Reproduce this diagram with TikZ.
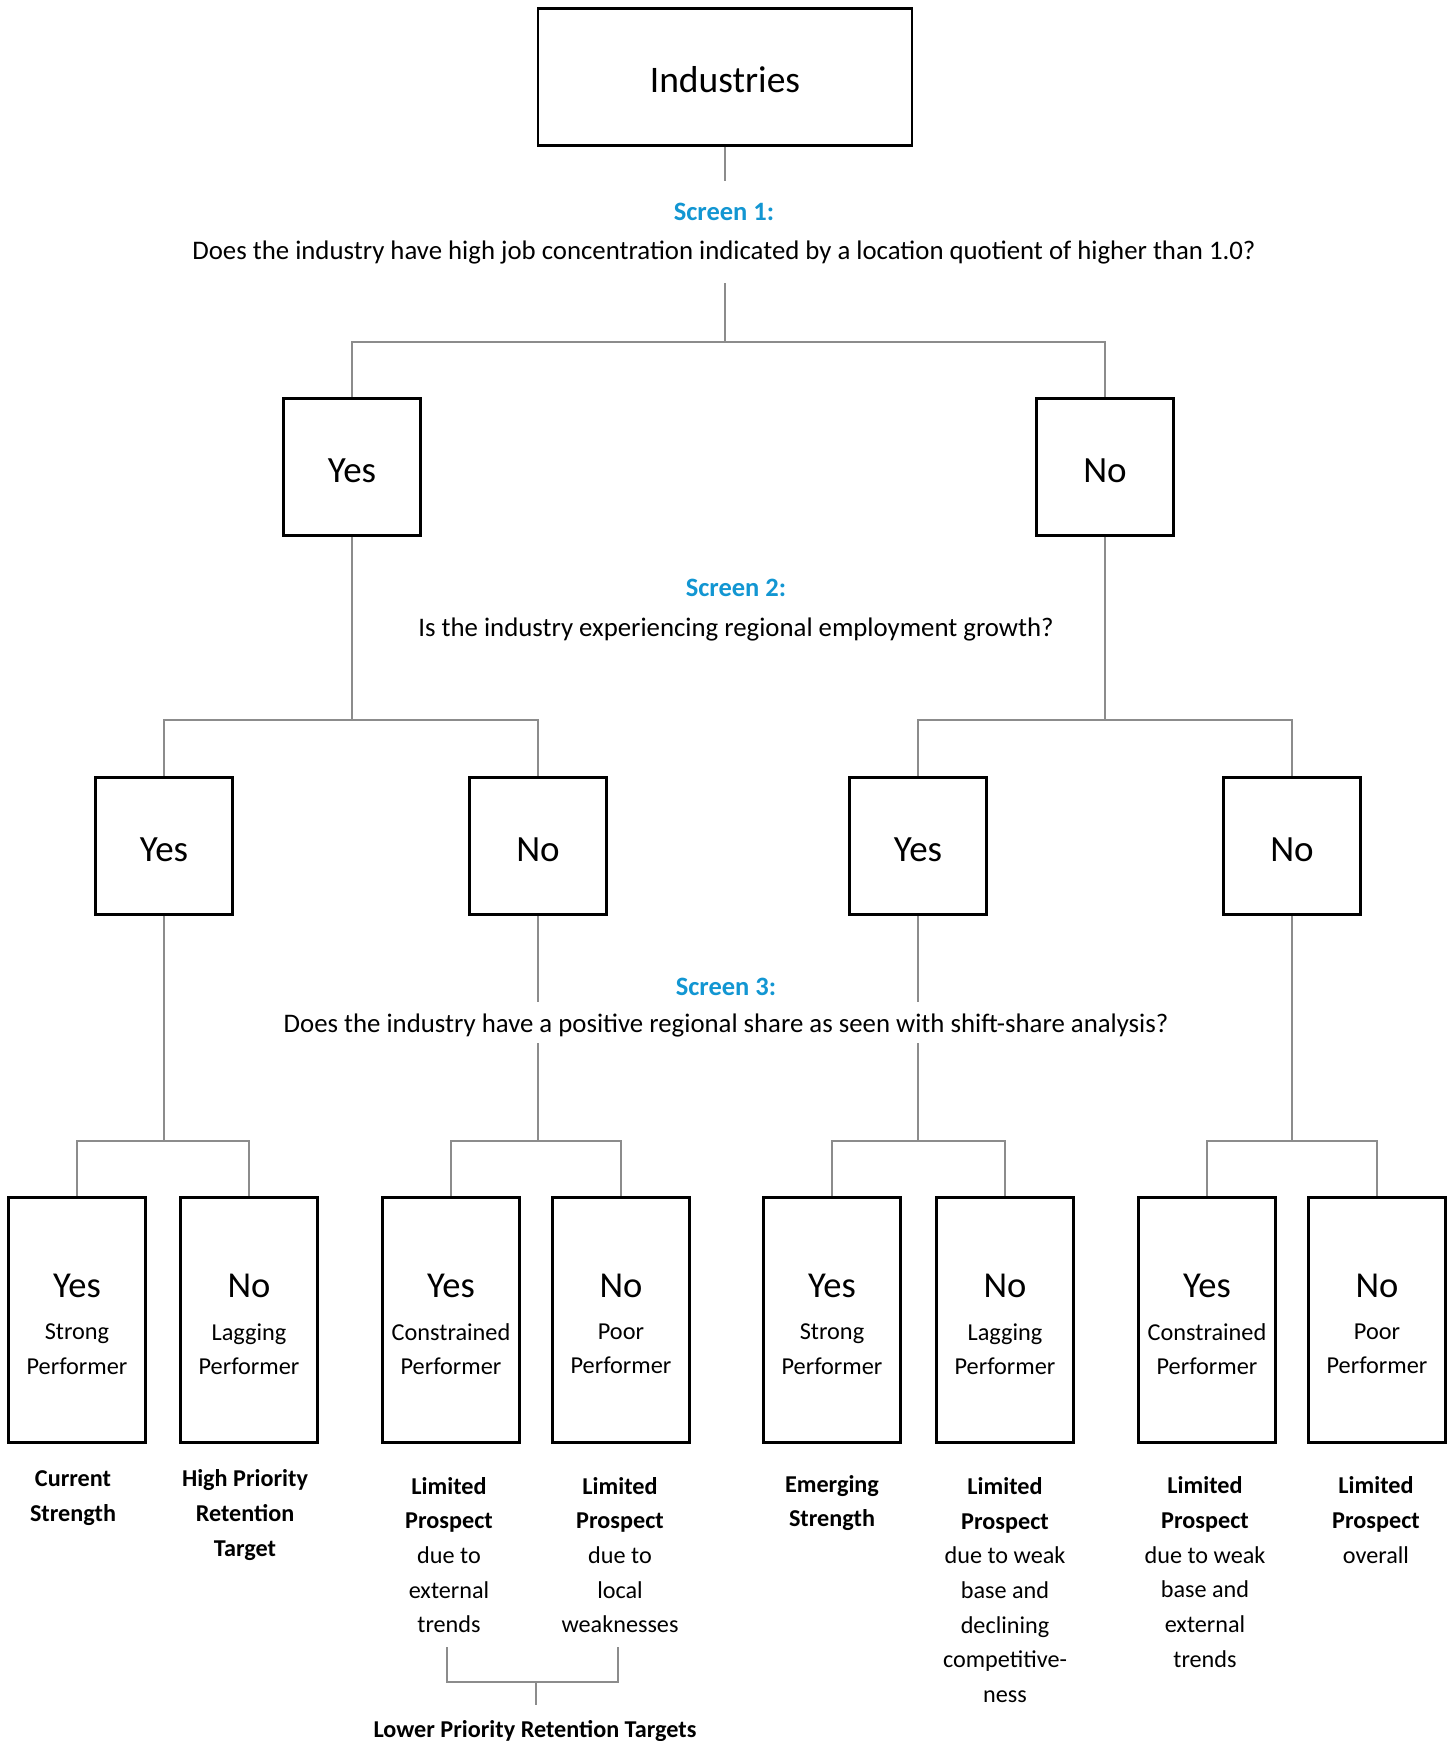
\documentclass[tikz,border=0pt]{standalone}
\usepackage{fontspec}
\setmainfont{Carlito}
\definecolor{scrblue}{RGB}{18,150,210}
\definecolor{linegray}{RGB}{140,140,140}
\tikzset{
  box/.style={draw=black, line width=2.6pt, rectangle, inner sep=0pt},
  topbox/.style={box, minimum width=374pt, minimum height=137pt, text height=30pt, text depth=0pt, font=\fontsize{37.5}{44}\selectfont},
  midbox/.style={box, minimum width=137pt, minimum height=137pt, text height=30pt, text depth=0pt, font=\fontsize{37}{44}\selectfont},
  leafbox/.style={box, minimum width=137pt, minimum height=245pt},
  conn/.style={draw=linegray, line width=1.7pt},
  screen/.style={text=scrblue, font=\bfseries\fontsize{26.5}{31}\selectfont, inner sep=0pt},
  question/.style={font=\fontsize{26.8}{31}\selectfont, inner sep=0pt},
  bigword/.style={font=\fontsize{36.5}{42}\selectfont, inner sep=0pt},
  subword/.style={font=\fontsize{24.3}{34.5}\selectfont, align=center, inner sep=0pt},
  outcome/.style={font=\fontsize{24.2}{34.7}\selectfont, align=center, inner sep=0pt}
}
\begin{document}
\begin{tikzpicture}[x=1pt,y=-1pt]
\useasboundingbox (0,0) rectangle (1452,1741);
% top
\node[topbox] (ind) at (725,77) {Industries};
\node[screen] (s1) at (724,212) {Screen 1:};
\node[question] (q1) at (724,252) {Does the industry have high job concentration indicated by a location quotient of higher than 1.0?};
% level 2
\node[midbox] (yes1) at (352,467) {Yes};
\node[midbox] (no1) at (1105,467) {No};
\node[screen] (s2) at (736,588) {Screen 2:};
\node[question] (q2) at (736,629) {Is the industry experiencing regional employment growth?};
% level 3
\node[midbox] (yes2) at (164,846) {Yes};
\node[midbox] (no2) at (538,846) {No};
\node[midbox] (yes3) at (918,846) {Yes};
\node[midbox] (no3) at (1292,846) {No};
\node[screen] (s3) at (726,987) {Screen 3:};
\node[question] (q3) at (726,1025) {Does the industry have a positive regional share as seen with shift-share analysis?};
% leaves
\foreach \n/\x in {1/77,2/249,3/451,4/621,5/832,6/1005,7/1207,8/1377}{
  \node[leafbox] (leaf\n) at (\x,1320) {};
}
\node[bigword] (w1) at (leaf1 |- 0,1286) {Yes};
\node[bigword] (w2) at (leaf2 |- 0,1286) {No};
\node[bigword] (w3) at (leaf3 |- 0,1286) {Yes};
\node[bigword] (w4) at (leaf4 |- 0,1286) {No};
\node[bigword] (w5) at (leaf5 |- 0,1286) {Yes};
\node[bigword] (w6) at (leaf6 |- 0,1286) {No};
\node[bigword] (w7) at (leaf7 |- 0,1286) {Yes};
\node[bigword] (w8) at (leaf8 |- 0,1286) {No};
\node[subword] (d1) at (leaf1 |- 0,1349) {Strong\\Performer};
\node[subword] (d2) at (leaf2 |- 0,1349) {Lagging\\Performer};
\node[subword] (d3) at (leaf3 |- 0,1349) {Constrained\\Performer};
\node[subword] (d4) at (leaf4 |- 0,1349) {Poor\\Performer};
\node[subword] (d5) at (leaf5 |- 0,1349) {Strong\\Performer};
\node[subword] (d6) at (leaf6 |- 0,1349) {Lagging\\Performer};
\node[subword] (d7) at (leaf7 |- 0,1349) {Constrained\\Performer};
\node[subword] (d8) at (leaf8 |- 0,1349) {Poor\\Performer};
% outcomes
\node[outcome] (o1) at (73,1498) {\textbf{Current}\\\textbf{Strength}};
\node[outcome] (o2) at (245,1515) {\textbf{High Priority}\\\textbf{Retention}\\\textbf{Target}};
\node[outcome] (o3) at (449,1555) {\textbf{Limited}\\\textbf{Prospect}\\due to\\external\\trends};
\node[outcome] (o4) at (620,1555) {\textbf{Limited}\\\textbf{Prospect}\\due to\\local\\weaknesses};
\node[outcome] (o5) at (832,1503) {\textbf{Emerging}\\\textbf{Strength}};
\node[outcome] (o6) at (1005,1590) {\textbf{Limited}\\\textbf{Prospect}\\due to weak\\base and\\declining\\competitive-\\ness};
\node[outcome] (o7) at (1205,1572) {\textbf{Limited}\\\textbf{Prospect}\\due to weak\\base and\\external\\trends};
\node[outcome] (o8) at (1376,1520) {\textbf{Limited}\\\textbf{Prospect}\\overall};
\node[outcome] (lp) at (535,1731) {\textbf{Lower Priority Retention Targets}};
% coordinates
\coordinate (a1) at (725,181);
\coordinate (b1) at (725,283);
\coordinate (j1) at (725,342);
\coordinate (j2l) at (352,720);
\coordinate (j2r) at (1105,720);
\coordinate (j3a) at (164,1141);
\coordinate (g3b1) at (538,1002);
\coordinate (g3b2) at (538,1043);
\coordinate (j3b) at (538,1141);
\coordinate (g3c1) at (918,1002);
\coordinate (g3c2) at (918,1043);
\coordinate (j3c) at (918,1141);
\coordinate (j3d) at (1292,1141);
\coordinate (br3) at (447,1647);
\coordinate (br4) at (618,1647);
\coordinate (brm) at (536,1682);
\coordinate (brs) at (536,1705);
% connectors
\draw[conn] (ind.south) -- (a1);
\draw[conn] (b1) -- (j1);
\draw[conn] (yes1.north) |- (j1) -| (no1.north);
\draw[conn] (yes1.south) -- (j2l);
\draw[conn] (yes2.north) |- (j2l) -| (no2.north);
\draw[conn] (no1.south) -- (j2r);
\draw[conn] (yes3.north) |- (j2r) -| (no3.north);
\draw[conn] (yes2.south) -- (j3a);
\draw[conn] (leaf1.north) |- (j3a) -| (leaf2.north);
\draw[conn] (no2.south) -- (g3b1);
\draw[conn] (g3b2) -- (j3b);
\draw[conn] (leaf3.north) |- (j3b) -| (leaf4.north);
\draw[conn] (yes3.south) -- (g3c1);
\draw[conn] (g3c2) -- (j3c);
\draw[conn] (leaf5.north) |- (j3c) -| (leaf6.north);
\draw[conn] (no3.south) -- (j3d);
\draw[conn] (leaf7.north) |- (j3d) -| (leaf8.north);
\draw[conn] (br3) |- (brm) -| (br4);
\draw[conn] (brm) -- (brs);
\end{tikzpicture}
\end{document}
